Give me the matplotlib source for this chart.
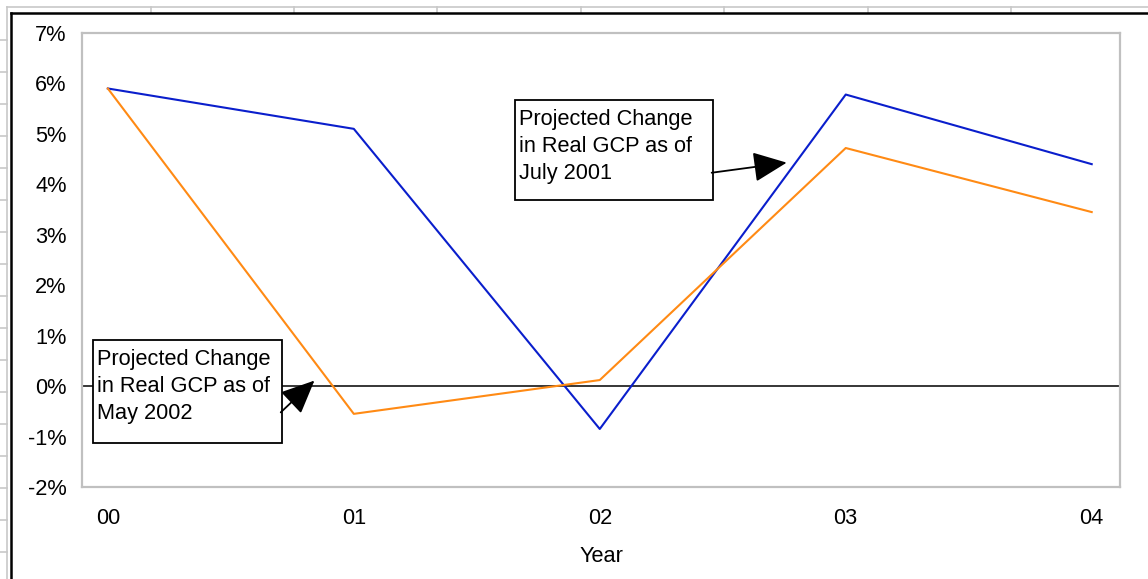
import matplotlib.pyplot as plt
from matplotlib.patches import Rectangle, FancyArrowPatch
from matplotlib.lines import Line2D
from matplotlib.ticker import FuncFormatter

plt.rcParams['font.family'] = ['Liberation Sans', 'DejaVu Sans']

years = ['00', '01', '02', '03', '04']
july_2001 = [5.9, 5.1, -0.85, 5.78, 4.4]
may_2002 = [5.9, -0.55, 0.12, 4.72, 3.45]
yticks = [-2, -1, 0, 1, 2, 3, 4, 5, 6, 7]

W, H = 1148, 579
FS = 15.7
fig = plt.figure(figsize=(W / 100, H / 100), dpi=100)

def fx(px):
    return px / W

def fy(py):
    return 1 - py / H

# spreadsheet grid behind the chart object
grid = '#c8c8c8'
fig.add_artist(Line2D([fx(7), 1], [fy(7), fy(7)], color=grid, lw=1.2))
fig.add_artist(Line2D([fx(7), fx(7)], [fy(7), 0], color=grid, lw=1.2))
for cx in [151, 294, 437, 581, 724, 868, 1011]:
    fig.add_artist(Line2D([fx(cx), fx(cx)], [fy(7), fy(13)], color=grid, lw=1.2))
for ry in range(40, H, 32):
    fig.add_artist(Line2D([0, fx(7)], [fy(ry), fy(ry)], color=grid, lw=1.2))

# chart frame
fig.add_artist(Line2D([fx(11), 1], [fy(13), fy(13)], color='black', lw=1.8))
fig.add_artist(Line2D([fx(11), fx(11)], [fy(13), 0], color='black', lw=1.8))

ax = fig.add_axes([fx(82), fy(487), fx(1120) - fx(82), fy(33) - fy(487)])
x = list(range(len(years)))
ax.plot(x, july_2001, color='#0a1ecc', lw=1.5, zorder=3)
ax.plot(x, may_2002, color='#ff8a14', lw=1.5, zorder=3)
ax.axhline(0, color='black', lw=1.1, zorder=2)

ax.set_xlim(-0.105, 4.115)
ax.set_ylim(-2, 7)
ax.set_xticks(x)
ax.set_xticklabels(years)
ax.set_yticks(yticks)
ax.yaxis.set_major_formatter(FuncFormatter(lambda v, p: f'{v:.0f}%'))
ax.tick_params(length=0, labelsize=FS, colors='black')
ax.tick_params(axis='x', pad=15)
ax.tick_params(axis='y', pad=11)
for s in ax.spines.values():
    s.set_color('#c0c0c0')
    s.set_linewidth(1.6)
ax.set_xlabel('Year', fontsize=FS, labelpad=12)

# annotation boxes
def note(x0, y0, x1, y1, lines):
    fig.add_artist(Rectangle((fx(x0), fy(y1)), fx(x1) - fx(x0), fy(y0) - fy(y1),
                             facecolor='white', edgecolor='black', lw=1.3, zorder=5))
    fig.text(fx(x0 + 4), fy(y0 + 9), '\n'.join(lines), ha='left', va='top',
             fontsize=FS, linespacing=1.38, zorder=6)

note(515, 100, 713, 200, ['Projected Change', 'in Real GCP as of', 'July 2001'])
note(93, 340, 282, 443, ['Projected Change', 'in Real GCP as of', 'May 2002'])

def arrow(start, tip):
    a = FancyArrowPatch(start, tip, transform=ax.transData,
                        arrowstyle='-|>,head_length=1.9,head_width=0.85',
                        mutation_scale=11, color='black', lw=1.3,
                        shrinkA=0, shrinkB=0, zorder=7, clip_on=False)
    fig.add_artist(a)

arrow((2.455, 4.23), (2.76, 4.43))
arrow((0.703, -0.52), (0.84, 0.11))

fig.savefig('out.png', dpi=100)
